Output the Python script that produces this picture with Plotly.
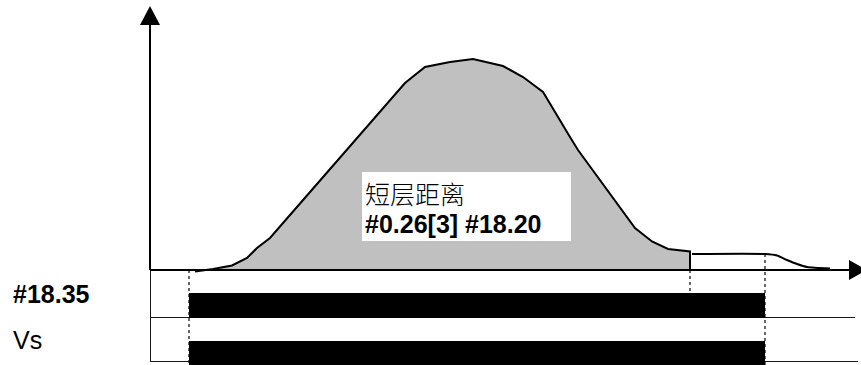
import plotly.graph_objects as go

# ---------------- data (time in arbitrary units, amplitude in arbitrary units) ----------------
curve_t = [45, 63, 82, 97, 107, 120, 140, 197, 240, 255, 275, 300, 323, 353, 373, 393, 420, 428, 485, 502, 518, 540]
curve_v = [-1.5, 1, 4.5, 12, 22, 32, 55, 120, 170, 187, 203, 208, 211, 204, 193, 178, 133, 120, 42, 28.5, 21, 18.5]

tail_t = [542, 615, 627, 637, 647, 657, 680]
tail_v = [16, 16, 14.5, 10, 6, 3, 1.5]

row_labels = ["#18.35", "Vs"]
row_label_bold = [True, False]
row_top = [0, -48]
row_on_start = [39, 39]
row_on_end = [615, 615]
row_high = [-23, -71]
row_low = [-48, -96]
row_base = [-47.5, -91.5]
row_line_end = [705, 708]

marker_t = [39, 540, 615]
marker_top = [0, 0, 16]
marker_bottom = [-96, -48, -96]

box_title = "短层距离"
box_params = "#0.26[3] #18.20"

# ---------------- geometry / style constants ----------------
X_MIN, X_MAX = -150, 711
Y_MIN, Y_MAX = -95, 270
X_AXIS_END = 699
Y_AXIS_END = 245
HEAD_LEN = 18
HEAD_HALF = 10
BOX_LINE_X = 0.5

FILL = "#c0c0c0"
LINE_C = "#000000"
ROW_C = "#1a1a1a"

fig = go.Figure()

# filled area under the curve
fig.add_trace(go.Scatter(
    x=[curve_t[0]] + curve_t + [curve_t[-1]],
    y=[0] + curve_v + [0],
    fill="toself", fillcolor=FILL, mode="none", hoverinfo="skip"))

# row baselines and left box
for b, e in zip(row_base, row_line_end):
    fig.add_trace(go.Scatter(x=[0, e], y=[b, b], mode="lines",
                             line=dict(color=ROW_C, width=1), hoverinfo="skip"))
fig.add_trace(go.Scatter(x=[BOX_LINE_X, BOX_LINE_X], y=[0, row_base[-1]], mode="lines",
                         line=dict(color=ROW_C, width=1), hoverinfo="skip"))

# timing bars
for s, e, hi, lo in zip(row_on_start, row_on_end, row_high, row_low):
    fig.add_trace(go.Scatter(x=[s, e, e, s, s], y=[lo, lo, hi, hi, lo],
                             fill="toself", fillcolor="#000000", mode="none",
                             hoverinfo="skip"))

# dotted marker lines
for t, top, bot in zip(marker_t, marker_top, marker_bottom):
    fig.add_trace(go.Scatter(x=[t, t], y=[top, bot], mode="lines",
                             line=dict(color="#000000", width=1.2, dash="dot"),
                             hoverinfo="skip"))

# main curve outline with drop at its end
fig.add_trace(go.Scatter(x=curve_t + [curve_t[-1]], y=curve_v + [0], mode="lines",
                         line=dict(color=LINE_C, width=2), hoverinfo="skip"))
# tail
fig.add_trace(go.Scatter(x=tail_t, y=tail_v, mode="lines",
                         line=dict(color=LINE_C, width=2, shape="spline", smoothing=0.6),
                         hoverinfo="skip"))

# axes with arrowheads
fig.add_trace(go.Scatter(x=[0, X_AXIS_END], y=[0, 0], mode="lines",
                         line=dict(color=LINE_C, width=2), hoverinfo="skip"))
fig.add_trace(go.Scatter(x=[0, 0], y=[0, Y_AXIS_END], mode="lines",
                         line=dict(color=LINE_C, width=2), hoverinfo="skip"))
fig.add_trace(go.Scatter(x=[X_AXIS_END, X_AXIS_END + HEAD_LEN, X_AXIS_END, X_AXIS_END],
                         y=[HEAD_HALF, 0, -HEAD_HALF, HEAD_HALF],
                         fill="toself", fillcolor=LINE_C, mode="none", hoverinfo="skip"))
fig.add_trace(go.Scatter(x=[-HEAD_HALF, 0, HEAD_HALF, -HEAD_HALF],
                         y=[Y_AXIS_END, Y_AXIS_END + HEAD_LEN + 1, Y_AXIS_END, Y_AXIS_END],
                         fill="toself", fillcolor=LINE_C, mode="none", hoverinfo="skip"))

# text box
fig.add_shape(type="rect", x0=212, x1=421, y0=29, y1=98, fillcolor="white",
              line=dict(width=0), layer="above")
fig.add_annotation(x=213, y=77, text=box_title, showarrow=False, xanchor="left",
                   yanchor="middle",
                   font=dict(family="Noto Sans CJK SC", size=25, color="#000000", weight=300))
fig.add_annotation(x=213, y=46, text="<b>%s</b>" % box_params, showarrow=False,
                   xanchor="left", yanchor="middle",
                   font=dict(family="Liberation Sans, Arial", size=25, color="#000000"))

# row labels
for lab, bold, top, base in zip(row_labels, row_label_bold, row_top, row_base):
    fig.add_annotation(x=-139, y=(top + base) / 2,
                       text=("<b>%s</b>" % lab) if bold else lab,
                       showarrow=False, xanchor="left", yanchor="middle",
                       font=dict(family="Liberation Sans, Arial", size=25, color="#000000"))

fig.update_layout(
    width=861, height=365,
    margin=dict(l=0, r=0, t=0, b=0),
    paper_bgcolor="white", plot_bgcolor="white",
    showlegend=False,
    xaxis=dict(range=[X_MIN, X_MAX], visible=False, fixedrange=True),
    yaxis=dict(range=[Y_MIN, Y_MAX], visible=False, fixedrange=True),
)

fig.write_html(
    "out.html",
    config={"displayModeBar": False},
    post_script="document.body.style.margin='0';document.body.style.overflow='hidden';",
)
